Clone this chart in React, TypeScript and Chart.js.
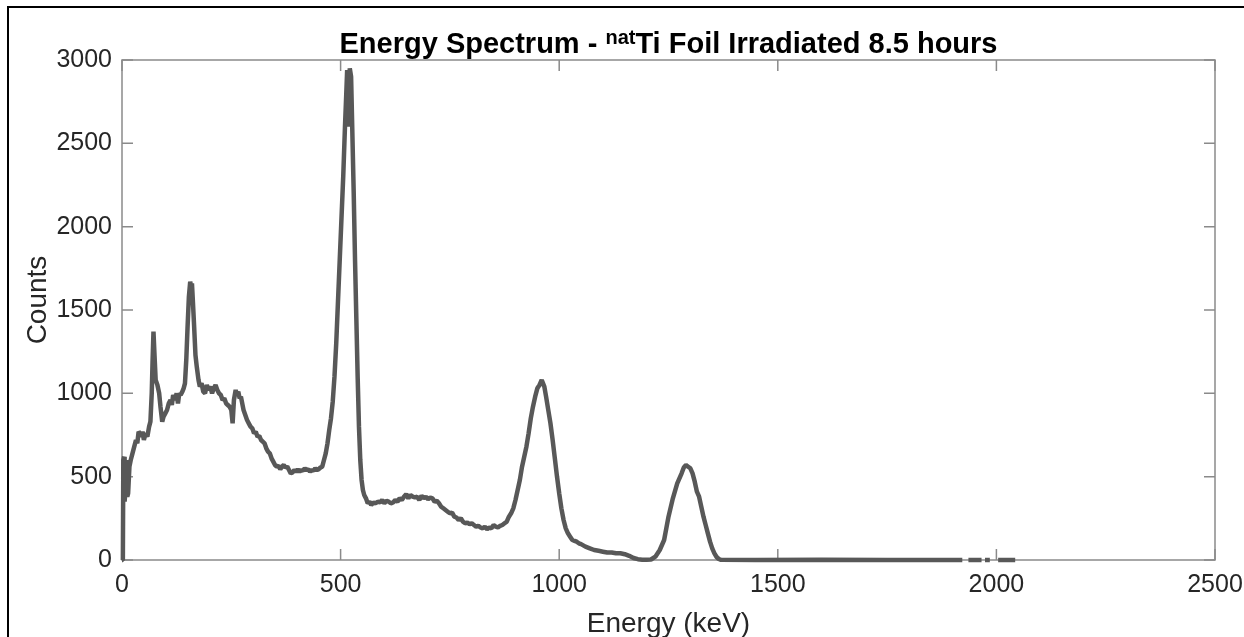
import React, { useEffect, useRef } from 'react';
import { Chart, registerables } from 'chart.js';

Chart.register(...registerables);

// ---- data ----
const ENERGY_KEV = [
  0, 2, 3, 5, 6, 8, 10, 12, 14, 17,
  20, 24, 28, 32, 35, 38, 41, 44, 47, 50,
  54, 58, 62, 65, 68, 70, 72, 74, 77, 81,
  85, 88, 92, 95, 99, 103, 107, 111, 114, 117,
  121, 125, 128, 131, 134, 138, 141, 144, 147, 150,
  153, 156, 158, 160, 162, 165, 168, 171, 175, 178,
  182, 186, 190, 194, 198, 202, 206, 210, 214, 218,
  222, 226, 230, 234, 238, 242, 246, 250, 253, 256,
  260, 263, 266, 269, 272, 275, 278, 282, 286, 290,
  294, 298, 302, 306, 310, 314, 318, 322, 326, 330,
  334, 338, 342, 346, 350, 354, 358, 362, 366, 370,
  374, 378, 382, 386, 390, 394, 398, 402, 406, 410,
  414, 418, 422, 426, 430, 434, 438, 442, 446, 450,
  454, 458, 462, 466, 470, 474, 478, 482, 486, 490,
  494, 498, 502, 506, 510, 513, 515, 518, 521, 524,
  527, 530, 533, 536, 539, 542, 545, 548, 551, 554,
  558, 562, 566, 570, 575, 580, 585, 590, 595, 600,
  605, 610, 615, 620, 625, 630, 635, 640, 645, 650,
  655, 660, 665, 670, 675, 680, 685, 690, 695, 700,
  705, 710, 715, 720, 725, 730, 735, 740, 745, 750,
  755, 760, 765, 770, 775, 780, 785, 790, 795, 800,
  805, 810, 815, 820, 825, 830, 835, 840, 845, 850,
  855, 860, 865, 870, 875, 880, 885, 890, 895, 900,
  905, 910, 915, 920, 925, 930, 935, 940, 945, 950,
  955, 960, 963, 966, 970, 975, 980, 985, 990, 995,
  1000, 1005, 1010, 1015, 1020, 1025, 1030, 1035, 1040, 1045,
  1050, 1060, 1070, 1080, 1090, 1100, 1110, 1120, 1130, 1140,
  1150, 1160, 1170, 1180, 1190, 1200, 1210, 1220, 1230, 1240,
  1250, 1260, 1270, 1280, 1285, 1290, 1295, 1300, 1305, 1310,
  1315, 1320, 1325, 1330, 1335, 1340, 1345, 1350, 1355, 1360,
  1365, 1370, 1450, 1600, 1750, 1922, 1923, 1936, 1966, 1967,
  1974, 1985, 1986, 2004, 2043,
];

const COUNTS: (number | null)[] = [
  0, 10, 600, 620, 350, 420, 600, 380, 400, 560,
  600, 640, 680, 720, 700, 770, 760, 740, 770, 720,
  760, 740, 800, 830, 1000, 1200, 1370, 1250, 1080, 1050,
  1000, 920, 830, 860, 880, 900, 940, 960, 930, 990,
  960, 1000, 940, 1000, 990, 1010, 1030, 1060, 1200, 1400,
  1580, 1670, 1640, 1660, 1560, 1400, 1230, 1160, 1080, 1040,
  1060, 1010, 1000, 1050, 1020, 1040, 1000, 1030, 1050, 1020,
  1000, 990, 960, 970, 940, 930, 920, 900, 820, 960,
  1020, 990, 1010, 970, 980, 940, 900, 870, 840, 820,
  800, 790, 760, 770, 740, 745, 720, 710, 700, 670,
  650, 640, 610, 590, 570, 560, 565, 545, 560, 570,
  555, 560, 540, 520, 525, 540, 530, 545, 530, 540,
  535, 550, 540, 545, 530, 540, 535, 550, 540, 545,
  555, 560, 600, 640, 700, 780, 850, 950, 1100, 1300,
  1550, 1800, 2050, 2300, 2600, 2800, 2940, 2600, 2950, 2900,
  2550, 2200, 1800, 1450, 1100, 800, 600, 480, 420, 390,
  370, 340, 350, 330, 345, 340, 350, 345, 360, 340,
  355, 350, 340, 345, 360, 350, 370, 360, 380, 395,
  370, 390, 380, 375, 380, 360, 385, 370, 380, 365,
  375, 370, 350, 355, 340, 320, 310, 300, 290, 280,
  285, 260, 255, 240, 250, 230, 220, 225, 215, 220,
  210, 200, 205, 195, 190, 200, 185, 195, 190, 210,
  200, 195, 205, 210, 220, 230, 260, 280, 310, 360,
  420, 480, 560, 620, 680, 760, 850, 920, 980, 1030,
  1050, 1080, 1060, 1040, 980, 900, 820, 720, 610, 500,
  400, 310, 240, 190, 160, 140, 120, 115, 110, 100,
  95, 80, 70, 60, 55, 50, 45, 45, 40, 40,
  35, 25, 12, 5, 2, 2, 3, 20, 60, 120,
  260, 370, 460, 520, 555, 570, 560, 550, 520, 470,
  410, 380, 320, 260, 210, 160, 110, 70, 40, 18,
  6, 1, 0, 1, 0, 0, null, 0, 0, null,
  0, 0, null, 0, 0,
];

const X_TICKS = [0, 500, 1000, 1500, 2000, 2500];
const Y_TICKS = [0, 500, 1000, 1500, 2000, 2500, 3000];
const TITLE_MAIN = 'Energy Spectrum - ';
const TITLE_SUP = 'nat';
const TITLE_REST = 'Ti Foil Irradiated 8.5 hours';
const X_LABEL = 'Energy (keV)';
const Y_LABEL = 'Counts';

// ---- styles ----
const FONT = '"Liberation Sans", Arial, Helvetica, sans-serif';
const LINE_COLOR = '#585858';
const AXIS_COLOR = '#8a8a8a';
const TEXT_COLOR = '#262626';
const TICK_LEN = 11;

const boxPlugin = {
  id: 'matlabBox',
  beforeDatasetsDraw(chart: any) {
    const { ctx, chartArea: a, scales } = chart;
    ctx.save();
    ctx.strokeStyle = AXIS_COLOR;
    ctx.lineWidth = 1.5;
    ctx.strokeRect(a.left, a.top, a.right - a.left, a.bottom - a.top);
    ctx.beginPath();
    for (const v of X_TICKS) {
      const px = scales.x.getPixelForValue(v);
      ctx.moveTo(px, a.bottom);
      ctx.lineTo(px, a.bottom - TICK_LEN);
      ctx.moveTo(px, a.top);
      ctx.lineTo(px, a.top + TICK_LEN);
    }
    for (const v of Y_TICKS) {
      const py = scales.y.getPixelForValue(v);
      ctx.moveTo(a.left, py);
      ctx.lineTo(a.left + TICK_LEN, py);
      ctx.moveTo(a.right, py);
      ctx.lineTo(a.right - TICK_LEN, py);
    }
    ctx.stroke();
    ctx.restore();
  },
};

const textPlugin = {
  id: 'matlabText',
  afterDraw(chart: any) {
    const { ctx, chartArea: a } = chart;
    const cx = (a.left + a.right) / 2;
    ctx.save();
    // title with superscript
    const mainFont = `bold 29px ${FONT}`;
    const supFont = `bold 20px ${FONT}`;
    ctx.font = mainFont;
    const w1 = ctx.measureText(TITLE_MAIN).width;
    const w3 = ctx.measureText(TITLE_REST).width;
    ctx.font = supFont;
    const w2 = ctx.measureText(TITLE_SUP).width;
    let x = cx - (w1 + w2 + w3) / 2;
    const base = 53;
    ctx.fillStyle = '#000';
    ctx.textBaseline = 'alphabetic';
    ctx.textAlign = 'left';
    ctx.font = mainFont;
    ctx.fillText(TITLE_MAIN, x, base);
    x += w1;
    ctx.font = supFont;
    ctx.fillText(TITLE_SUP, x, base - 9);
    x += w2;
    ctx.font = mainFont;
    ctx.fillText(TITLE_REST, x, base);

    // axis labels
    ctx.fillStyle = TEXT_COLOR;
    ctx.font = `28px ${FONT}`;
    ctx.textAlign = 'center';
    ctx.fillText(X_LABEL, cx, 632);
    ctx.translate(46, 300);
    ctx.rotate(-Math.PI / 2);
    ctx.fillText(Y_LABEL, 0, 0);
    ctx.restore();
  },
};

export default function App() {
  const canvasRef = useRef<HTMLCanvasElement>(null);

  useEffect(() => {
    const canvas = canvasRef.current;
    if (!canvas) return;
    const points = ENERGY_KEV.map((e, i) => ({ x: e, y: COUNTS[i] }));
    const tickFont = { family: FONT, size: 25 };
    const chart = new Chart(canvas, {
      type: 'line',
      data: {
        datasets: [
          {
            data: points as any,
            borderColor: LINE_COLOR,
            borderWidth: 4.5,
            pointRadius: 0,
            tension: 0,
            fill: false,
            spanGaps: false,
            clip: false as any,
            borderJoinStyle: 'bevel',
          },
        ],
      },
      options: {
        responsive: false,
        animation: false,
        devicePixelRatio: 1,
        events: [],
        layout: { padding: { left: 0, right: 29, top: 60, bottom: 0 } },
        plugins: {
          legend: { display: false },
          tooltip: { enabled: false },
          title: { display: false },
        },
        scales: {
          x: {
            type: 'linear',
            min: 0,
            max: 2500,
            afterFit: (s: any) => {
              s.height = 77;
              s.paddingLeft = 0;
              s.paddingRight = 0;
            },
            afterBuildTicks: (s: any) => {
              s.ticks = X_TICKS.map((v) => ({ value: v }));
            },
            ticks: {
              font: tickFont,
              color: TEXT_COLOR,
              padding: 10,
              maxRotation: 0,
              autoSkip: false,
              callback: (v: any) => String(v),
            },
            grid: { display: false, drawTicks: false },
            border: { display: false },
          },
          y: {
            type: 'linear',
            min: 0,
            max: 3000,
            afterFit: (s: any) => {
              s.width = 122;
              s.paddingTop = 0;
              s.paddingBottom = 0;
            },
            afterBuildTicks: (s: any) => {
              s.ticks = Y_TICKS.map((v) => ({ value: v }));
            },
            ticks: {
              font: tickFont,
              color: TEXT_COLOR,
              padding: 10,
              autoSkip: false,
              callback: (v: any) => String(v),
            },
            grid: { display: false, drawTicks: false },
            border: { display: false },
          },
        },
      },
      plugins: [boxPlugin, textPlugin],
    });
    return () => chart.destroy();
  }, []);

  return (
    <div
      style={{
        position: 'fixed',
        left: 0,
        top: 0,
        width: 1244,
        height: 637,
        overflow: 'hidden',
        background: '#fff',
      }}
    >
      <canvas ref={canvasRef} width={1244} height={637} style={{ width: 1244, height: 637, display: 'block' }} />
      <div
        style={{
          position: 'absolute',
          left: 7,
          top: 6,
          width: 1300,
          height: 700,
          borderLeft: '2px solid #000',
          borderTop: '2px solid #000',
          pointerEvents: 'none',
        }}
      />
    </div>
  );
}
